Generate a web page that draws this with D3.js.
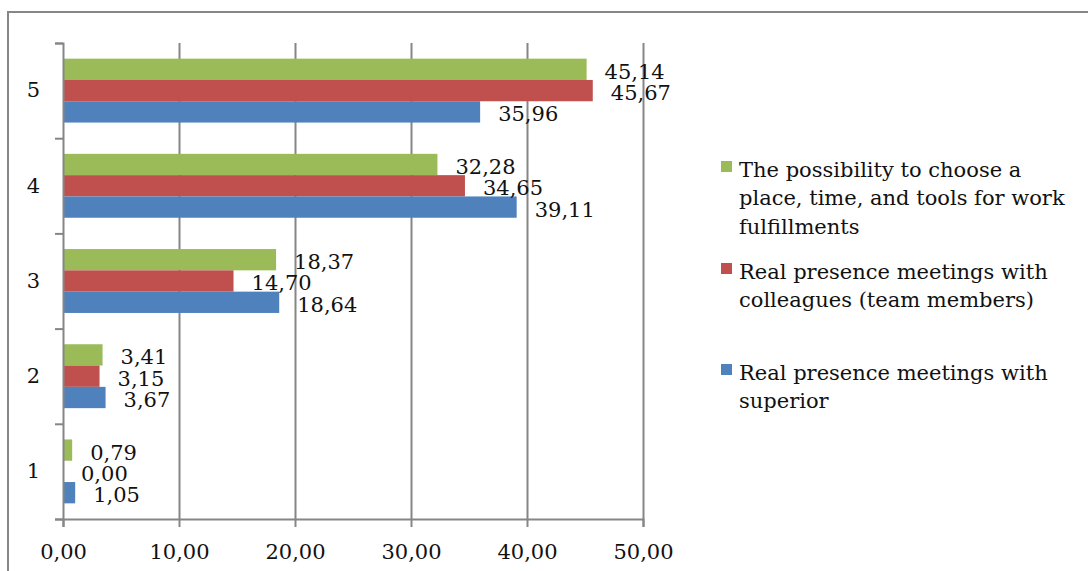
<!DOCTYPE html>
<html>
<head>
<meta charset="utf-8">
<script src="https://cdn.jsdelivr.net/npm/d3@7"></script>
<style>
	body { margin: 0; background: #fff; }
	svg text { font-family: "DejaVu Serif", serif; fill: #111; }
</style>
</head>
<body>
<svg id="chart" width="1088" height="571"></svg>
<script>
// values (decimal comma in labels)
const categories = ['5', '4', '3', '2', '1'];
const choiceValues = [45.14, 32.28, 18.37, 3.41, 0.79];
const colleagueValues = [45.67, 34.65, 14.70, 3.15, 0.00];
const superiorValues = [35.96, 39.11, 18.64, 3.67, 1.05];
const xTicks = [0, 10, 20, 30, 40, 50];

const seriesNames = ['choice', 'colleagues', 'superior'];
const seriesValues = [choiceValues, colleagueValues, superiorValues];
const seriesColors = ['#9bbb59', '#c0504d', '#4f81bd'];
const legendLines = [
	['The possibility to choose a', 'place, time, and tools for work', 'fulfillments'],
	['Real presence meetings with', 'colleagues (team members)'],
	['Real presence meetings with', 'superior']
];

const width = 1088;
const height = 571;
const plot = { left: 63, right: 643, top: 43, bottom: 519 };
const gray = '#868686';
const fmt = v => v.toFixed(2).replace('.', ',');

const svg = d3.select('#chart');

// outer frame, cut by the page at right and bottom
svg.append('rect')
	.attr('x', 8)
	.attr('y', 12)
	.attr('width', width + 20)
	.attr('height', height + 20)
	.attr('fill', 'none')
	.attr('stroke', gray)
	.attr('stroke-width', 2);

const x = d3.scaleLinear()
	.domain([0, 50])
	.range([plot.left, plot.right]);

const y = d3.scaleBand()
	.domain(categories)
	.range([plot.top, plot.bottom]);

const yInner = d3.scaleBand()
	.domain(seriesNames)
	.range([0, y.bandwidth()])
	.paddingInner(0)
	.paddingOuter(0.735);

const yEdges = d3.scaleLinear()
	.domain([0, categories.length])
	.range([plot.bottom, plot.top]);

// gridlines
const grid = svg.append('g')
	.attr('transform', `translate(0,${plot.bottom})`)
	.call(d3.axisBottom(x)
		.tickValues(xTicks.slice(1))
		.tickSize(-(plot.bottom - plot.top))
		.tickFormat(''));
grid.select('.domain').remove();
grid.selectAll('.tick line')
	.attr('stroke', gray)
	.attr('stroke-width', 2);

// bars
const rows = categories.map((c, i) => ({
	cat: c,
	items: seriesNames.map((s, k) => ({ key: s, value: seriesValues[k][i], color: seriesColors[k] }))
}));

const groups = svg.append('g').attr('class', 'bars')
	.selectAll('g')
	.data(rows)
	.join('g')
	.attr('transform', d => `translate(0,${y(d.cat)})`);

groups.selectAll('rect')
	.data(d => d.items)
	.join('rect')
	.attr('x', x(0))
	.attr('y', d => yInner(d.key))
	.attr('width', d => x(d.value) - x(0))
	.attr('height', yInner.bandwidth())
	.attr('fill', d => d.color);

groups.selectAll('text')
	.data(d => d.items)
	.join('text')
	.attr('x', d => x(d.value) + 18)
	.attr('y', d => yInner(d.key) + yInner.bandwidth() / 2 + 4)
	.attr('dominant-baseline', 'middle')
	.attr('font-size', 21)
	.text(d => fmt(d.value));

// x axis
const xAxis = svg.append('g')
	.attr('transform', `translate(0,${plot.bottom})`)
	.call(d3.axisBottom(x)
		.tickValues(xTicks)
		.tickSize(8)
		.tickPadding(17)
		.tickFormat(fmt));
xAxis.select('.domain').attr('stroke', gray).attr('stroke-width', 2);
xAxis.selectAll('.tick line').attr('stroke', gray).attr('stroke-width', 2);
xAxis.selectAll('.tick text')
	.attr('font-size', 21)
	.attr('font-family', '"DejaVu Serif", serif')
	.attr('fill', '#111');

// y axis: ticks on band edges, labels at band centres
const yTicks = svg.append('g')
	.attr('transform', `translate(${plot.left},0)`)
	.call(d3.axisLeft(yEdges)
		.ticks(categories.length)
		.tickSize(8)
		.tickFormat(''));
yTicks.select('.domain').attr('stroke', gray).attr('stroke-width', 2);
yTicks.selectAll('.tick line').attr('stroke', gray).attr('stroke-width', 2);

const yLabels = svg.append('g')
	.attr('transform', `translate(${plot.left},0)`)
	.call(d3.axisLeft(y).tickSize(0).tickPadding(23));
yLabels.select('.domain').remove();
yLabels.selectAll('.tick text')
	.attr('font-size', 21)
	.attr('font-family', '"DejaVu Serif", serif')
	.attr('fill', '#111');

// legend
const legendTop = [161, 263, 364];
const legend = svg.append('g').attr('class', 'legend');
legendLines.forEach((lines, k) => {
	const g = legend.append('g').attr('transform', `translate(721,${legendTop[k]})`);
	g.append('rect')
		.attr('width', 11)
		.attr('height', 11)
		.attr('fill', seriesColors[k]);
	g.selectAll('text')
		.data(lines)
		.join('text')
		.attr('x', 18)
		.attr('y', (d, i) => 10 + i * 28.5)
		.attr('dominant-baseline', 'middle')
		.attr('font-size', 21)
		.text(d => d);
});
</script>
</body>
</html>
